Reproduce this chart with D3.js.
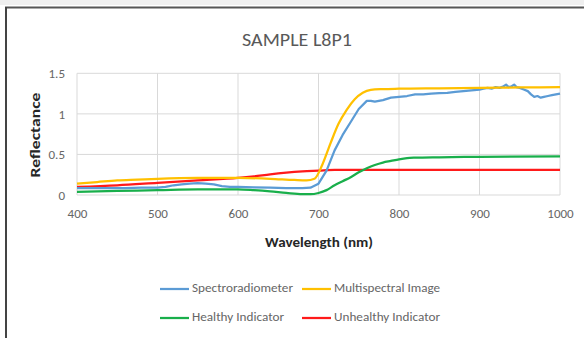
<!DOCTYPE html>
<html>
<head>
<meta charset="utf-8">
<script src="https://cdn.jsdelivr.net/npm/d3@7"></script>
<style>
  body { margin: 0; background: #fff; }
  svg { display: block; font-family: Carlito, Lato, "Open Sans", sans-serif; }
</style>
</head>
<body>
<div id="chart"></div>
<script>
var width = 584;
var height = 338;

// data (wavelength nm, reflectance)
var specWl = [400, 420, 440, 460, 480, 500, 510, 520, 530, 540, 550, 560, 570, 580, 590, 600, 620, 640, 660, 680, 690, 700, 710, 720, 730, 740, 750, 760, 765, 770, 780, 790, 800, 810, 820, 830, 840, 850, 860, 870, 880, 890, 900, 905, 910, 915, 920, 925, 930, 933, 936, 940, 943, 946, 950, 955, 960, 964, 968, 972, 976, 980, 985, 990, 995, 1000];
var specVal = [0.085, 0.085, 0.085, 0.085, 0.09, 0.09, 0.1, 0.12, 0.13, 0.14, 0.145, 0.14, 0.13, 0.11, 0.1, 0.1, 0.095, 0.09, 0.085, 0.085, 0.09, 0.14, 0.3, 0.55, 0.74, 0.9, 1.06, 1.16, 1.16, 1.15, 1.17, 1.2, 1.21, 1.22, 1.24, 1.24, 1.25, 1.255, 1.26, 1.27, 1.28, 1.29, 1.3, 1.31, 1.32, 1.31, 1.33, 1.32, 1.34, 1.36, 1.33, 1.34, 1.36, 1.33, 1.32, 1.3, 1.28, 1.24, 1.21, 1.22, 1.2, 1.21, 1.22, 1.23, 1.24, 1.25];

var multiWl = [400, 425, 450, 475, 500, 550, 600, 640, 670, 685, 695, 705, 715, 725, 735, 745, 755, 765, 780, 800, 850, 900, 950, 1000];
var multiVal = [0.14, 0.16, 0.18, 0.19, 0.2, 0.21, 0.21, 0.2, 0.185, 0.18, 0.2, 0.38, 0.64, 0.88, 1.05, 1.18, 1.26, 1.295, 1.305, 1.31, 1.315, 1.32, 1.325, 1.33];

var healthyWl = [400, 450, 500, 550, 600, 620, 640, 660, 680, 690, 700, 710, 720, 730, 740, 750, 760, 770, 780, 790, 800, 810, 820, 850, 900, 1000];
var healthyVal = [0.04, 0.05, 0.06, 0.07, 0.07, 0.06, 0.045, 0.025, 0.01, 0.01, 0.025, 0.06, 0.12, 0.17, 0.22, 0.28, 0.33, 0.37, 0.4, 0.42, 0.44, 0.455, 0.46, 0.465, 0.47, 0.475];

var unhealthyWl = [400, 450, 500, 550, 600, 620, 640, 660, 680, 700, 720, 800, 900, 1000];
var unhealthyVal = [0.1, 0.12, 0.15, 0.18, 0.21, 0.23, 0.255, 0.275, 0.29, 0.3, 0.31, 0.31, 0.31, 0.31];

var xTicks = [400, 500, 600, 700, 800, 900, 1000];
var yTicks = [0, 0.5, 1, 1.5];

var series = [
  { name: "Spectroradiometer", wl: specWl, val: specVal, color: "#5B9BD5", curve: d3.curveLinear },
  { name: "Multispectral Image", wl: multiWl, val: multiVal, color: "#FFC000", curve: d3.curveMonotoneX },
  { name: "Healthy Indicator", wl: healthyWl, val: healthyVal, color: "#19AF4B", curve: d3.curveMonotoneX },
  { name: "Unhealthy Indicator", wl: unhealthyWl, val: unhealthyVal, color: "#FF1A1A", curve: d3.curveMonotoneX }
];
// draw order: red under the others like the picture
var drawOrder = [3, 2, 0, 1];

var svg = d3.select("#chart")
            .append("svg")
            .attr("width", width)
            .attr("height", height);

// frame of the cropped screenshot
svg.append("rect").attr("x", 0).attr("y", 0).attr("width", width).attr("height", 5).style("fill", "#efefef");
svg.append("line").attr("x1", 5).attr("x2", width).attr("y1", 7.5).attr("y2", 7.5)
   .style("stroke", "#555").style("stroke-width", 2);
svg.append("line").attr("x1", 6).attr("x2", 6).attr("y1", 7).attr("y2", height)
   .style("stroke", "#444").style("stroke-width", 2);

var xScale = d3.scaleLinear().domain([400, 1000]).range([77, 560]);
var yScale = d3.scaleLinear().domain([0, 1.5]).range([195, 73.3]);

// grid
svg.append("g").selectAll("line")
   .data(xTicks).enter().append("line")
   .attr("x1", function(d){ return xScale(d); })
   .attr("x2", function(d){ return xScale(d); })
   .attr("y1", yScale(0)).attr("y2", yScale(1.5))
   .style("stroke", "#D9D9D9").style("stroke-width", 1);
svg.append("g").selectAll("line")
   .data(yTicks).enter().append("line")
   .attr("x1", xScale(400)).attr("x2", xScale(1000))
   .attr("y1", function(d){ return yScale(d); })
   .attr("y2", function(d){ return yScale(d); })
   .style("stroke", "#D9D9D9").style("stroke-width", 1);

// axes (labels only)
var xAxis = svg.append("g")
   .attr("transform", "translate(0," + (yScale(0) + 6) + ")")
   .call(d3.axisBottom(xScale).tickValues(xTicks).tickSize(0).tickPadding(8).tickFormat(d3.format("d")));
var yAxis = svg.append("g")
   .attr("transform", "translate(" + (xScale(400) - 10) + ",0)")
   .call(d3.axisLeft(yScale).tickValues(yTicks).tickSize(0).tickPadding(2).tickFormat(function(d){ return String(d); }));
[xAxis, yAxis].forEach(function(a){
  a.select(".domain").remove();
  a.selectAll("text").style("fill", "#666").style("font-size", "13px").style("font-family", "Carlito, Lato, sans-serif");
});

// lines
var line = d3.line();
drawOrder.forEach(function(i){
  var s = series[i];
  var pts = s.wl.map(function(w, k){ return [xScale(w), yScale(s.val[k])]; });
  svg.append("path")
     .attr("d", line.curve(s.curve)(pts))
     .style("fill", "none")
     .style("stroke", s.color)
     .style("stroke-width", 2.25)
     .style("stroke-linejoin", "round");
});

// title and axis titles
svg.append("text").attr("x", 297).attr("y", 46).attr("text-anchor", "middle")
   .attr("textLength", 110).attr("lengthAdjust", "spacingAndGlyphs")
   .text("SAMPLE L8P1").style("font-size", "18px").style("fill", "#595959");
svg.append("text").attr("x", 319).attr("y", 247).attr("text-anchor", "middle")
   .attr("textLength", 108).attr("lengthAdjust", "spacingAndGlyphs")
   .text("Wavelength (nm)").style("font-size", "13.5px").style("font-weight", "bold").style("fill", "#262626");
svg.append("text").attr("transform", "translate(40,135) rotate(-90)").attr("text-anchor", "middle")
   .attr("textLength", 85).attr("lengthAdjust", "spacingAndGlyphs")
   .text("Reflectance").style("font-size", "14px").style("font-weight", "bold").style("fill", "#262626");

// legend
var legendPos = [[160, 289], [302, 289], [160, 318], [302, 318]];
var legendLen = [101, 106, 92, 106];
series.forEach(function(s, i){
  var p = legendPos[i];
  svg.append("line").attr("x1", p[0]).attr("x2", p[0] + 29).attr("y1", p[1]).attr("y2", p[1])
     .style("stroke", s.color).style("stroke-width", 2.25);
  svg.append("text").attr("x", p[0] + 32).attr("y", p[1]).attr("dominant-baseline", "middle")
     .attr("textLength", legendLen[i]).attr("lengthAdjust", "spacingAndGlyphs")
     .text(s.name).style("font-size", "13px").style("fill", "#666");
});
</script>
</body>
</html>
